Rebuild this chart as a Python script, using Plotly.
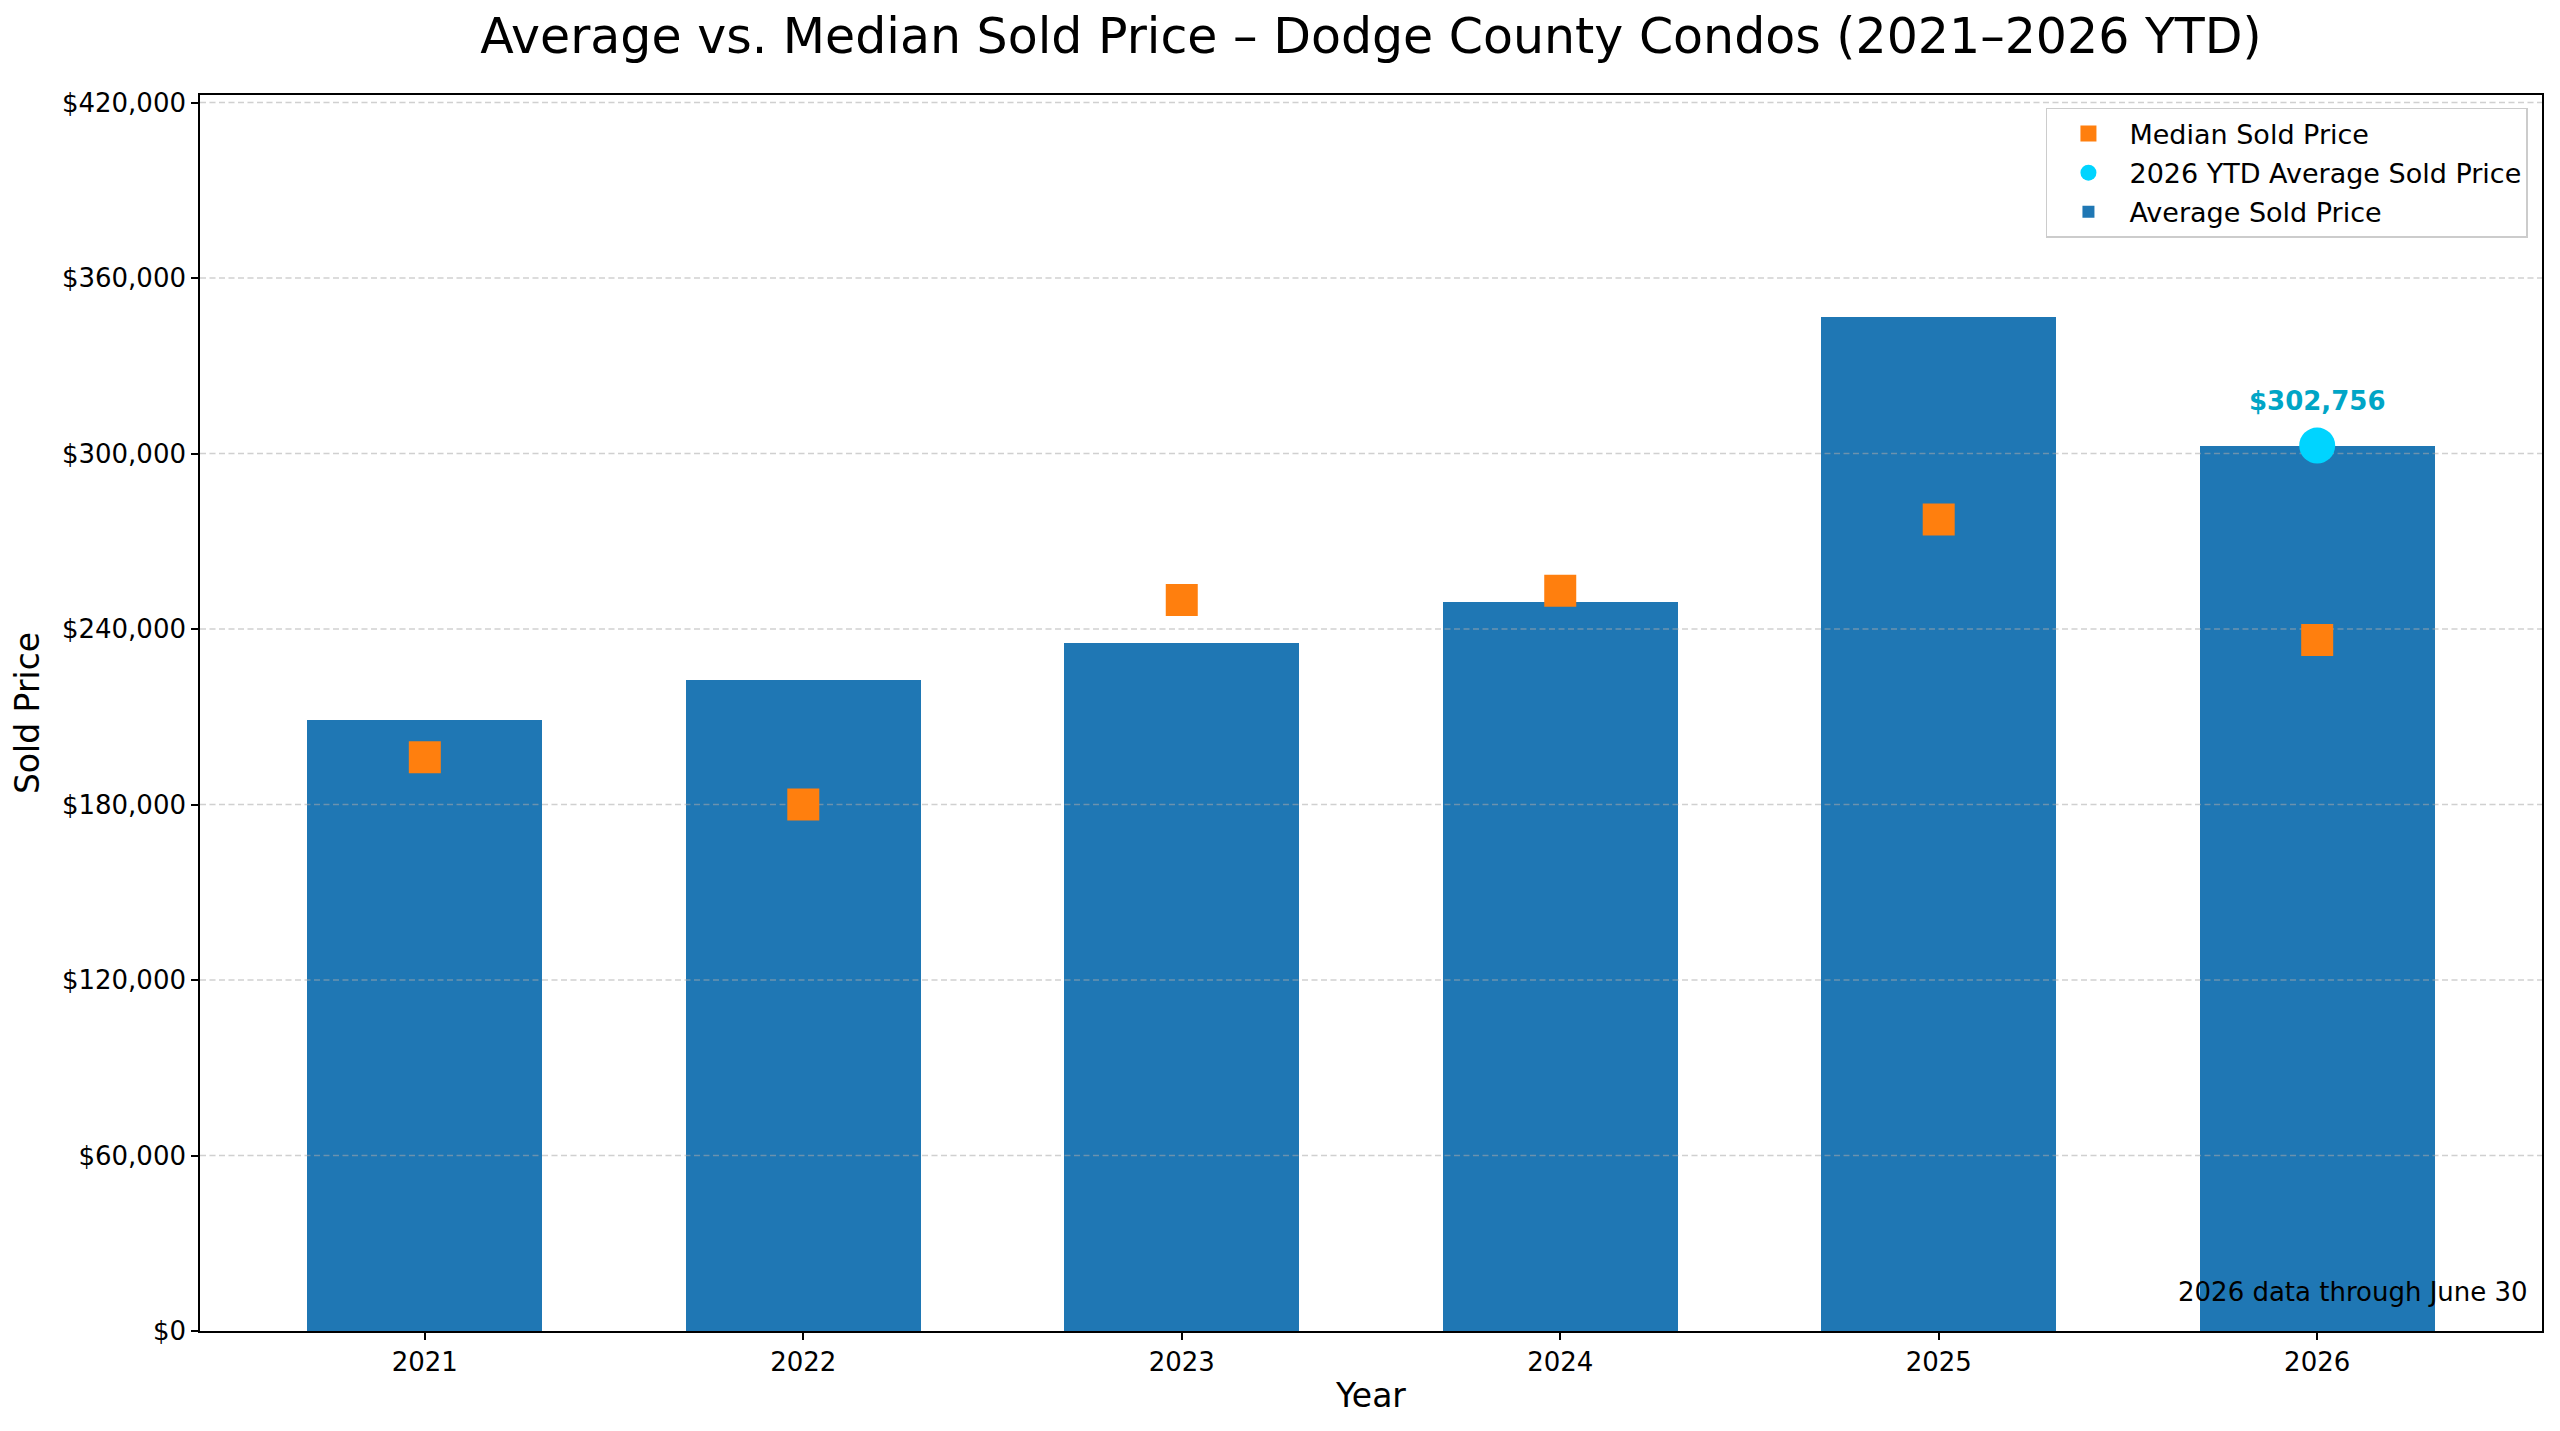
import plotly.graph_objects as go

# values
years = [2021, 2022, 2023, 2024, 2025, 2026]
avg_price = [208900, 222700, 235200, 249100, 346600, 302756]
median_price = [196200, 180000, 249900, 253100, 277500, 236300]
ytd_year = [2026]
ytd_avg = [302756]
ytd_label = "$302,756"

y_ticks = [0, 60000, 120000, 180000, 240000, 300000, 360000, 420000]
y_ticktext = ["$" + format(v, ",") for v in y_ticks]
x_range = [2020.406, 2026.594]
y_range = [0, 422600]

FONT = "DejaVu Sans"
SMALL = 26


def grid_trace():
    """dashed horizontal grid drawn above the bars, like matplotlib does"""
    gx, gy = [], []
    for t in y_ticks[1:]:
        gx += [x_range[0], x_range[1], None]
        gy += [t, t, None]
    return go.Scatter(
        x=gx, y=gy, mode="lines",
        line=dict(color="rgba(170,170,170,0.55)", width=1.5, dash="6px,3.5px"),
        showlegend=False, hoverinfo="skip",
    )


fig = go.Figure()

fig.add_trace(go.Bar(
    x=years, y=avg_price, width=0.62,
    name="Average Sold Price", legendgroup="avg",
    marker=dict(color="#1f77b4", line=dict(width=0)),
    legendrank=3,
))

fig.add_trace(grid_trace())

fig.add_trace(go.Scatter(
    x=years, y=median_price, mode="markers",
    name="Median Sold Price", legendgroup="median",
    marker=dict(symbol="square", size=32, color="#ff7f0e", line=dict(width=0)),
    legendrank=1,
))

fig.add_trace(go.Scatter(
    x=ytd_year, y=ytd_avg, mode="markers",
    name="2026 YTD Average Sold Price", legendgroup="ytd",
    marker=dict(symbol="circle", size=36, color="#00d4ff", line=dict(width=0)),
    legendrank=2,
))

fig.add_annotation(
    x=ytd_year[0], y=ytd_avg[0], text="<b>" + ytd_label + "</b>",
    showarrow=False, yshift=45, yanchor="middle",
    font=dict(family=FONT, size=SMALL, color="#00a5c6"),
)

fig.add_annotation(
    xref="x domain", yref="y domain", x=0.995, y=0.018,
    xanchor="right", yanchor="bottom", showarrow=False,
    text="2026 data through June 30",
    font=dict(family=FONT, size=SMALL, color="black"),
)

axis_common = dict(
    showline=True, linecolor="black", linewidth=1.6, mirror=True,
    ticks="outside", ticklen=7, tickwidth=1.6, tickcolor="black",
    tickfont=dict(family=FONT, size=SMALL, color="black"),
    zeroline=False, showgrid=False,
)

fig.update_layout(
    width=2544, height=1415,
    margin=dict(l=192, r=8, t=87, b=92),
    paper_bgcolor="white", plot_bgcolor="white",
    font=dict(family=FONT, color="black"),
    title=dict(
        text="Average vs. Median Sold Price \u2013 Dodge County Condos (2021\u20132026 YTD)",
        x=0.5, xref="paper", xanchor="center",
        y=0.9802, yref="container", yanchor="middle",
        font=dict(family=FONT, size=49, color="black"),
    ),
    xaxis=dict(
        axis_common, range=x_range, tickvals=years,
        ticktext=[str(y) for y in years],
        title=dict(text="Year", font=dict(family=FONT, size=33), standoff=8),
    ),
    yaxis=dict(
        axis_common, range=y_range, tickvals=y_ticks, ticktext=y_ticktext,
        title=dict(text="Sold Price", font=dict(family=FONT, size=33), standoff=12),
    ),
    legend=dict(
        x=0.994, y=0.9895, xanchor="right", yanchor="top",
        bgcolor="rgba(255,255,255,0.8)", bordercolor="#cccccc", borderwidth=1.5,
        font=dict(family=FONT, size=27, color="black"),
        traceorder="grouped", tracegroupgap=1, itemwidth=72,
    ),
    bargap=0,
    showlegend=True,
)

fig.write_html("out.html")
